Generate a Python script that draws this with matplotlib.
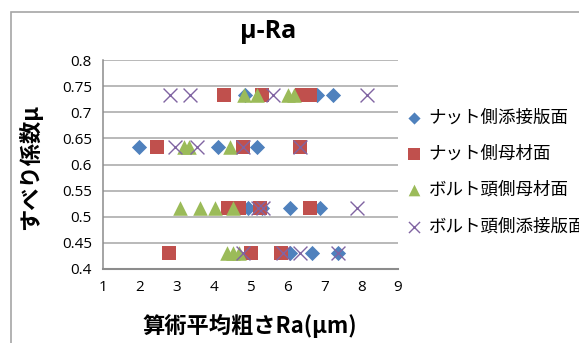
import matplotlib
matplotlib.use("Agg")
import matplotlib.pyplot as plt
from matplotlib.patches import Rectangle

plt.rcParams['font.family'] = ['Noto Sans CJK JP', 'DejaVu Sans']

# データ (Ra, μ)
nut_plate_x = [4.85, 6.8, 7.23, 1.97, 4.12, 5.17, 4.93, 5.3, 6.07, 6.88, 6.07, 6.66, 7.37]
nut_plate_y = [0.733, 0.733, 0.733, 0.633, 0.633, 0.633, 0.517, 0.517, 0.517, 0.517, 0.43, 0.43, 0.43]

nut_base_x = [4.28, 5.31, 6.39, 6.61, 2.46, 4.8, 6.34, 4.39, 4.69, 5.25, 6.61, 2.8, 5.0, 5.82]
nut_base_y = [0.733, 0.733, 0.733, 0.733, 0.633, 0.633, 0.633, 0.517, 0.517, 0.517, 0.517, 0.43, 0.43, 0.43]

bolt_base_x = [4.82, 5.17, 6.01, 6.18, 3.2, 3.32, 4.44, 3.09, 3.63, 4.04, 4.52, 4.36, 4.52, 4.7]
bolt_base_y = [0.733, 0.733, 0.733, 0.733, 0.633, 0.633, 0.633, 0.517, 0.517, 0.517, 0.517, 0.43, 0.43, 0.43]

bolt_plate_x = [2.82, 3.36, 5.61, 8.15, 2.95, 3.55, 4.8, 6.34, 5.2, 5.34, 7.88, 4.8, 5.88, 6.34, 7.37]
bolt_plate_y = [0.733, 0.733, 0.733, 0.733, 0.633, 0.633, 0.633, 0.633, 0.517, 0.517, 0.517, 0.43, 0.43, 0.43, 0.43]

labels = ['ナット側添接版面', 'ナット側母材面', 'ボルト頭側母材面', 'ボルト頭側添接版面']

fig = plt.figure(figsize=(5.79, 3.43), dpi=100)
fig.patches.append(Rectangle((11 / 579, -0.1), 1.1, 1 - 12 / 343 + 0.1, transform=fig.transFigure,
                             fill=False, edgecolor='#a6a6a6', linewidth=1.2))
ax = fig.add_axes([103 / 579, 1 - 269 / 343, 295 / 579, 209 / 343])

ax.scatter(nut_plate_x, nut_plate_y, marker='D', s=60, color='#4F81BD', label=labels[0], zorder=3, linewidths=0)
ax.scatter(nut_base_x, nut_base_y, marker='s', s=110, color='#C0504D', label=labels[1], zorder=3, linewidths=0)
ax.scatter(bolt_base_x, bolt_base_y, marker='^', s=110, color='#9BBB59', label=labels[2], zorder=3, linewidths=0)
ax.scatter(bolt_plate_x, bolt_plate_y, marker='x', s=100, color='#8064A2', label=labels[3], zorder=3, linewidths=1.0)

ax.set_xlim(1, 9)
ax.set_ylim(0.4, 0.8)
ax.set_xticks(range(1, 10))
ax.set_yticks([0.4, 0.45, 0.5, 0.55, 0.6, 0.65, 0.7, 0.75, 0.8])
ax.set_yticklabels(['0.4', '0.45', '0.5', '0.55', '0.6', '0.65', '0.7', '0.75', '0.8'])
ax.tick_params(length=0, labelsize=11, pad=8)
for lab in ax.get_xticklabels() + ax.get_yticklabels():
    lab.set_family('Open Sans')
ax.grid(axis='y', color='#a6a6a6', linewidth=1.1)
ax.set_axisbelow(True)
for s in ['top', 'right']:
    ax.spines[s].set_visible(False)
ax.spines['left'].set_color('#8c8c8c')
ax.spines['bottom'].set_color('#8c8c8c')
ax.spines['left'].set_linewidth(1.1)
ax.spines['bottom'].set_linewidth(1.5)

fig.text(268 / 579, 1 - 31 / 343, 'μ-Ra', ha='center', va='center', fontsize=18, fontweight='bold',
         family='Open Sans')
fig.text(250 / 579, 1 - 326 / 343, '算術平均粗さRa(μm)', ha='center', va='center', fontsize=16, fontweight='bold')
fig.text(30 / 579, 1 - 167 / 343, 'すべり係数μ', ha='center', va='center', rotation=90, fontsize=16,
         fontweight='bold')

ax.legend(loc='center left', bbox_to_anchor=(0.955, 0.465), frameon=False, fontsize=12.6,
          handletextpad=-0.2, labelspacing=1.05, borderaxespad=0.3, scatterpoints=1, markerscale=0.8)

fig.savefig('out.png', dpi=100)
